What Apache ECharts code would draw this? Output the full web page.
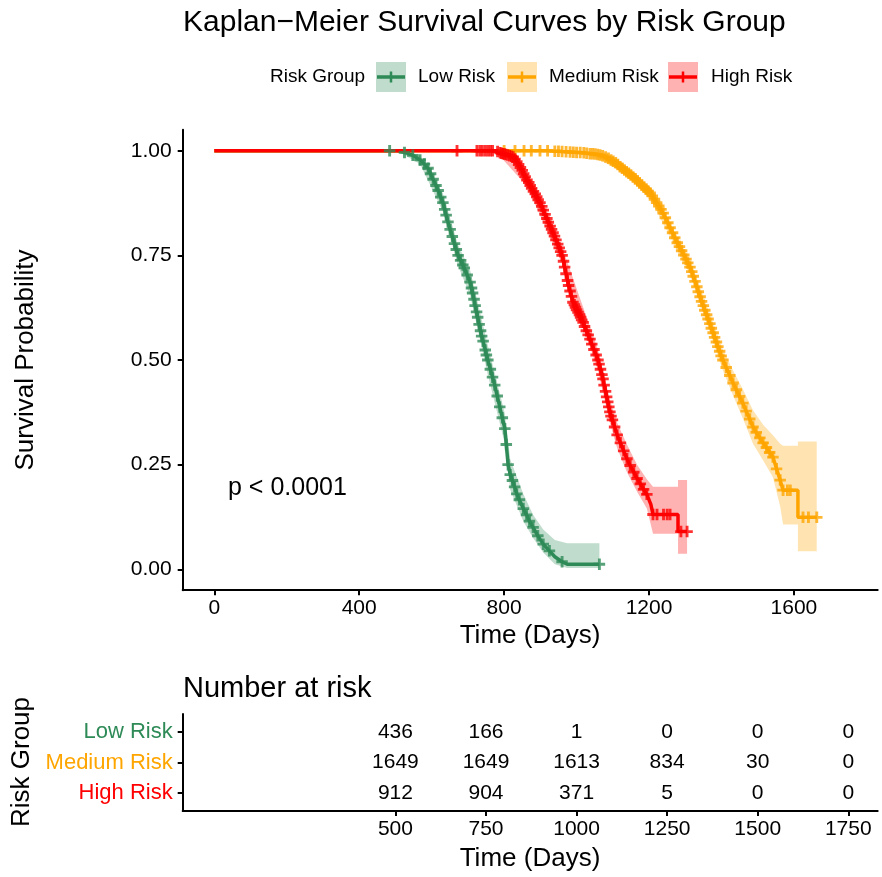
<!DOCTYPE html>
<html>
<head>
<meta charset="utf-8">
<script src="https://cdn.jsdelivr.net/npm/echarts@6.0.0/dist/echarts.min.js"></script>
<style>
  html, body { margin: 0; padding: 0; background: #ffffff; }
  #chart { width: 882px; height: 877px; }
</style>
</head>
<body>
<div id="chart"></div>
<script>
// Kaplan-Meier estimates per risk group: [time (days), survival, censored flag]
const lowCurve = [
  [0,1,0],[484,1,1],[504,1,0],[525,0.996,1],[540,0.992,0],[548,0.989,1],[568,0.978,1],
  [580,0.968,1],[590,0.958,1],[597,0.945,1],[604,0.932,1],[612,0.917,1],[618,0.905,1],
  [625,0.889,1],[631,0.876,1],[636,0.86,1],[640,0.846,1],[645,0.83,1],[651,0.812,1],[657,0.795,1],
  [663,0.778,1],[668,0.764,1],[673,0.75,1],[680,0.738,1],[686,0.727,1],[690,0.72,1],
  [698,0.703,1],[706,0.686,1],[710,0.672,1],[713,0.66,1],[717,0.645,1],[720,0.63,1],[724,0.615,1],
  [727,0.602,1],[731,0.585,1],[735,0.57,1],[738,0.557,1],
  [742,0.545,1],[748,0.524,1],[751,0.512,1],[755,0.5,1],[762,0.478,1],[768,0.459,1],[774,0.44,1],
  [781,0.414,1],[788,0.388,1],[795,0.362,1],[802,0.336,1],[806,0.298,1],[811,0.25,1],
  [817,0.226,1],[823,0.212,1],[829,0.197,1],[835,0.18,1],[842,0.166,1],[853,0.145,1],
  [862,0.13,1],[870,0.115,1],[880,0.1,1],[893,0.08,1],[908,0.06,1],[925,0.044,1],
  [940,0.03,0],[960,0.018,1],[974,0.012,0],[1063,0.012,1]
];
const mediumCurve = [
  [0,1,0],[800,1,1],[830,1,1],[855,1,1],[875,1,1],[899,1,1],[920,1,1],[940,0.999,1],
  [950,0.9985,1],[960,0.998,1],[971,0.9975,1],[982,0.997,1],[991,0.9965,1],[1000,0.996,1],
  [1010,0.9955,1],[1020,0.995,1],[1028,0.994,1],[1037,0.993,1],[1044,0.9925,1],[1051,0.992,1],
  [1058,0.991,1],[1065,0.99,1],[1072,0.988,1],[1080,0.985,1],[1088,0.982,1],[1095,0.978,1],
  [1101,0.975,1],[1108,0.971,1],[1114,0.967,1],[1120,0.962,1],[1126,0.958,1],[1132,0.954,1],
  [1138,0.95,1],[1144,0.946,1],[1150,0.942,1],[1156,0.937,1],[1162,0.933,1],[1168,0.928,1],
  [1174,0.923,1],[1180,0.918,1],[1186,0.913,1],[1192,0.908,1],[1197,0.904,1],[1203,0.899,1],
  [1209,0.892,1],[1215,0.884,1],[1221,0.876,1],[1227,0.868,1],[1233,0.86,1],[1239,0.851,1],
  [1245,0.84,1],[1252,0.828,1],[1258,0.816,1],[1265,0.804,1],[1271,0.792,1],[1278,0.78,1],
  [1284,0.771,1],[1290,0.761,1],[1296,0.751,1],[1302,0.741,1],[1307,0.732,1],[1313,0.722,1],
  [1318,0.711,1],[1322,0.7,1],[1327,0.688,1],[1332,0.675,1],[1336,0.663,1],[1341,0.651,1],
  [1345,0.64,1],[1350,0.63,1],[1354,0.619,1],[1359,0.608,1],[1363,0.598,1],[1368,0.587,1],
  [1372,0.576,1],[1377,0.565,1],[1381,0.554,1],[1386,0.543,1],[1390,0.532,1],[1395,0.521,1],
  [1399,0.51,1],[1404,0.5,1],[1413,0.482,1],[1423,0.463,1],[1432,0.445,1],[1441,0.429,1],
  [1450,0.413,1],[1459,0.397,1],[1468,0.378,1],[1478,0.359,1],[1487,0.34,1],[1496,0.327,1],
  [1506,0.314,1],[1515,0.302,1],[1524,0.291,1],[1533,0.279,1],[1542,0.268,1],[1552,0.24,1],
  [1562,0.213,1],[1570,0.189,1],[1582,0.189,1],[1590,0.189,1],[1611,0.189,0],[1611,0.124,0],
  [1625,0.124,1],[1640,0.124,1],[1663,0.124,1]
];
const highCurve = [
  [0,1,0],[670,1,1],[725,1,1],[733,1,1],[740,1,1],[748,1,1],[755,1,1],[762,1,1],[768,1,1],
  [775,1,0],[782,0.998,1],[789,0.995,1],[793,0.994,1],[797,0.993,1],[801,0.992,1],[805,0.991,1],
  [810,0.99,1],[815,0.988,1],[820,0.987,1],[825,0.985,1],[830,0.98,1],[835,0.974,1],
  [840,0.967,1],[845,0.96,1],[850,0.953,1],[854,0.945,1],[858,0.938,1],[863,0.93,1],
  [868,0.924,1],[872,0.917,1],[876,0.91,1],[881,0.903,1],[886,0.897,1],[890,0.89,1],
  [894,0.883,1],[899,0.876,1],[904,0.867,1],[908,0.858,1],[913,0.848,1],[918,0.838,1],
  [922,0.829,1],[927,0.82,1],[931,0.812,1],[935,0.804,1],[939,0.796,1],[943,0.787,1],
  [948,0.777,1],[952,0.768,1],[956,0.759,1],[960,0.75,1],[964,0.736,1],[967,0.722,1],
  [971,0.706,1],[975,0.69,1],[978,0.678,1],[982,0.665,1],[986,0.652,1],[990,0.638,1],
  [994,0.632,1],[997,0.626,1],[1000,0.62,1],[1004,0.614,1],[1008,0.608,1],[1011,0.602,1],
  [1014,0.596,1],[1018,0.59,1],[1022,0.58,1],[1027,0.57,1],[1032,0.56,1],[1037,0.55,1],
  [1042,0.538,1],[1048,0.525,1],[1054,0.512,1],[1059,0.5,1],[1062,0.49,1],[1066,0.478,1],
  [1070,0.465,1],[1073,0.455,1],[1076,0.44,1],[1080,0.425,1],[1083,0.412,1],[1086,0.4,1],
  [1089,0.388,1],[1092,0.376,1],[1095,0.366,1],[1099,0.357,1],[1105,0.34,1],[1112,0.321,1],
  [1121,0.302,1],[1130,0.283,1],[1139,0.264,1],[1148,0.248,1],[1158,0.232,1],[1167,0.217,1],
  [1176,0.204,1],[1185,0.191,1],[1194,0.179,1],[1205,0.155,0],[1211,0.131,1],[1222,0.131,1],
  [1240,0.131,1],[1250,0.131,1],[1258,0.131,1],[1280,0.131,0],[1280,0.09,0],[1288,0.09,1],
  [1305,0.09,1]
];

// 95% confidence bands: [time, lower, upper]
const lowBand = [
  [504,1,1],[568,0.968,0.988],[631,0.855,0.897],[673,0.725,0.775],[706,0.655,0.715],
  [755,0.465,0.535],[802,0.3,0.372],[817,0.19,0.262],[853,0.115,0.18],[880,0.075,0.13],
  [908,0.04,0.095],[940,0.012,0.07],[974,0.003,0.062],[1063,0.003,0.062]
];
const mediumBand = [
  [899,1,1],[1037,0.99,0.996],[1120,0.952,0.972],[1156,0.926,0.947],[1203,0.885,0.912],
  [1313,0.705,0.74],[1404,0.475,0.525],[1432,0.415,0.475],
  [1459,0.36,0.43],[1487,0.3,0.38],[1515,0.26,0.345],[1542,0.22,0.32],[1562,0.15,0.3],
  [1570,0.107,0.295],[1611,0.107,0.295],[1611,0.043,0.305],[1663,0.043,0.305]
];
const highBand = [
  [775,1,1],[863,0.915,0.945],[960,0.73,0.77],[1059,0.475,0.525],[1092,0.35,0.405],
  [1112,0.29,0.35],[1139,0.232,0.298],[1167,0.185,0.25],[1194,0.145,0.215],
  [1211,0.085,0.197],[1280,0.085,0.197],[1280,0.037,0.213],[1305,0.037,0.213]
];

// Number at risk table
const groupNames = ['Low Risk', 'Medium Risk', 'High Risk'];
const riskTimes = [500, 750, 1000, 1250, 1500, 1750];
const lowAtRisk = [436, 166, 1, 0, 0, 0];
const mediumAtRisk = [1649, 1649, 1613, 834, 30, 0];
const highAtRisk = [912, 904, 371, 5, 0, 0];

// Axis ticks
const timeTicks = [0, 400, 800, 1200, 1600];
const survTicks = [0, 0.25, 0.5, 0.75, 1];

const colors = ['#2E8B57', '#FFA500', '#FF0000'];
const bandColors = ['rgba(46,139,87,0.3)', 'rgba(255,165,0,0.3)', 'rgba(255,0,0,0.3)'];
const FONT = '"Liberation Sans", Arial, Helvetica, sans-serif';
const PLUS = 'path://M3.75,0h2.5v3.75h3.75v2.5h-3.75v3.75h-2.5v-3.75h-3.75v-2.5h3.75z';

const curves = [lowCurve, mediumCurve, highCurve];
const bands = [lowBand, mediumBand, highBand];
const atRisk = [lowAtRisk, mediumAtRisk, highAtRisk];

const X_MIN = -87.2, X_MAX = 1831.2;

function bandSeries(band, fill) {
  return {
    type: 'custom', xAxisIndex: 0, yAxisIndex: 0, silent: true, z: 1,
    data: [[0, 0]],
    renderItem: function (params, api) {
      const upper = band.map(b => api.coord([b[0], b[2]]));
      const lower = band.map(b => api.coord([b[0], b[1]])).reverse();
      return { type: 'polygon', shape: { points: upper.concat(lower) }, style: { fill: fill } };
    }
  };
}

const series = [];
bands.forEach((b, i) => series.push(bandSeries(b, bandColors[i])));
curves.forEach((c, i) => series.push({
  type: 'line', xAxisIndex: 0, yAxisIndex: 0, z: 2,
  data: c.map(p => [p[0], p[1]]),
  showSymbol: false, symbol: 'none',
  lineStyle: { color: colors[i], width: 3.5 }
}));
curves.forEach((c, i) => series.push({
  type: 'scatter', xAxisIndex: 0, yAxisIndex: 0, z: 3,
  data: c.filter(p => p[2]).map(p => [p[0], p[1]]),
  symbol: PLUS, symbolSize: 11.5,
  itemStyle: { color: colors[i] }
}));

// risk table numbers
const riskData = [];
atRisk.forEach((row, i) => row.forEach((n, j) => riskData.push([riskTimes[j], i, n])));
series.push({
  type: 'scatter', xAxisIndex: 1, yAxisIndex: 1, z: 5,
  data: riskData, symbolSize: 1,
  itemStyle: { color: '#ffffff' },
  label: {
    show: true, position: 'inside', formatter: p => String(p.value[2]),
    fontSize: 21, fontFamily: FONT, color: '#000000', opacity: 1, textBorderWidth: 0
  }
});

const axisLineStyle = { color: '#000', width: 2 };
const baseLabel = { fontSize: 21, fontFamily: FONT, color: '#000' };

const rich = {};
groupNames.forEach((g, i) => { rich['g' + i] = { color: colors[i], fontSize: 22, fontFamily: FONT }; });

// legend keys
const legendGraphics = [];
const keyX = [376, 507, 668];
const keyTextX = [418, 549, 711];
groupNames.forEach((g, i) => {
  const bx = keyX[i];
  legendGraphics.push(
    { type: 'rect', shape: { x: bx, y: 62, width: 30, height: 30 }, style: { fill: bandColors[i] } },
    { type: 'line', shape: { x1: bx + 1, y1: 77, x2: bx + 29, y2: 77 }, style: { stroke: colors[i], lineWidth: 3.5 } },
    { type: 'line', shape: { x1: bx + 15, y1: 71.5, x2: bx + 15, y2: 82.5 }, style: { stroke: colors[i], lineWidth: 2.5 } },
    { type: 'text', x: keyTextX[i], y: 77, style: { text: g, fontSize: 19, fontFamily: FONT, fill: '#000', align: 'left', verticalAlign: 'middle' } }
  );
});

function txt(text, x, y, size, opts) {
  return Object.assign({
    type: 'text', x: x, y: y,
    style: { text: text, fontSize: size, fontFamily: FONT, fill: '#000', align: 'left', verticalAlign: 'middle' }
  }, opts || {});
}

const graphics = [
  txt('Kaplan\u2212Meier Survival Curves by Risk Group', 183, 23, 30),
  txt('Risk Group', 270, 77, 19),
  ...legendGraphics,
  txt('p < 0.0001', 228, 488, 25),
  { type: 'text', x: 530, y: 636, style: { text: 'Time (Days)', fontSize: 26, fontFamily: FONT, fill: '#000', align: 'center', verticalAlign: 'middle' } },
  { type: 'text', x: 26, y: 360, rotation: Math.PI / 2, style: { text: 'Survival Probability', fontSize: 26, fontFamily: FONT, fill: '#000', align: 'center', verticalAlign: 'middle' } },
  txt('Number at risk', 183, 689, 29),
  { type: 'text', x: 530, y: 859, style: { text: 'Time (Days)', fontSize: 26, fontFamily: FONT, fill: '#000', align: 'center', verticalAlign: 'middle' } },
  { type: 'text', x: 22, y: 762, rotation: Math.PI / 2, style: { text: 'Risk Group', fontSize: 26, fontFamily: FONT, fill: '#000', align: 'center', verticalAlign: 'middle' } }
];

const chart = echarts.init(document.getElementById('chart'), null, { renderer: 'canvas' });
chart.setOption({
  animation: false,
  backgroundColor: '#ffffff',
  grid: [
    { left: 182.7, top: 129.8, width: 695, height: 460.4, containLabel: false },
    { left: 182.7, top: 714, width: 695, height: 97, containLabel: false }
  ],
  xAxis: [
    {
      type: 'value', gridIndex: 0, min: X_MIN, max: X_MAX,
      axisLine: { show: true, onZero: false, lineStyle: axisLineStyle },
      axisTick: { show: true, customValues: timeTicks, length: 5, lineStyle: axisLineStyle },
      axisLabel: Object.assign({ customValues: timeTicks, margin: 8, formatter: v => String(v) }, baseLabel),
      splitLine: { show: false }
    },
    {
      type: 'value', gridIndex: 1, min: X_MIN, max: X_MAX,
      axisLine: { show: true, onZero: false, lineStyle: axisLineStyle },
      axisTick: { show: true, customValues: riskTimes, length: 5, lineStyle: axisLineStyle },
      axisLabel: Object.assign({ customValues: riskTimes, margin: 8, formatter: v => String(v) }, baseLabel),
      splitLine: { show: false }
    }
  ],
  yAxis: [
    {
      type: 'value', gridIndex: 0, min: -0.05, max: 1.05,
      axisLine: { show: true, onZero: false, lineStyle: axisLineStyle },
      axisTick: { show: true, customValues: survTicks, length: 5, lineStyle: axisLineStyle },
      axisLabel: Object.assign({ customValues: survTicks, margin: 11, formatter: v => Number(v).toFixed(2) }, baseLabel),
      splitLine: { show: false }
    },
    {
      type: 'value', gridIndex: 1, min: -0.6, max: 2.6, inverse: true,
      axisLine: { show: true, onZero: false, lineStyle: axisLineStyle },
      axisTick: { show: true, customValues: [0, 1, 2], length: 5, lineStyle: axisLineStyle },
      axisLabel: {
        customValues: [0, 1, 2], margin: 10,
        formatter: v => '{g' + Math.round(v) + '|' + groupNames[Math.round(v)] + '}',
        rich: rich
      },
      splitLine: { show: false }
    }
  ],
  graphic: graphics,
  series: series
});
</script>
</body>
</html>
